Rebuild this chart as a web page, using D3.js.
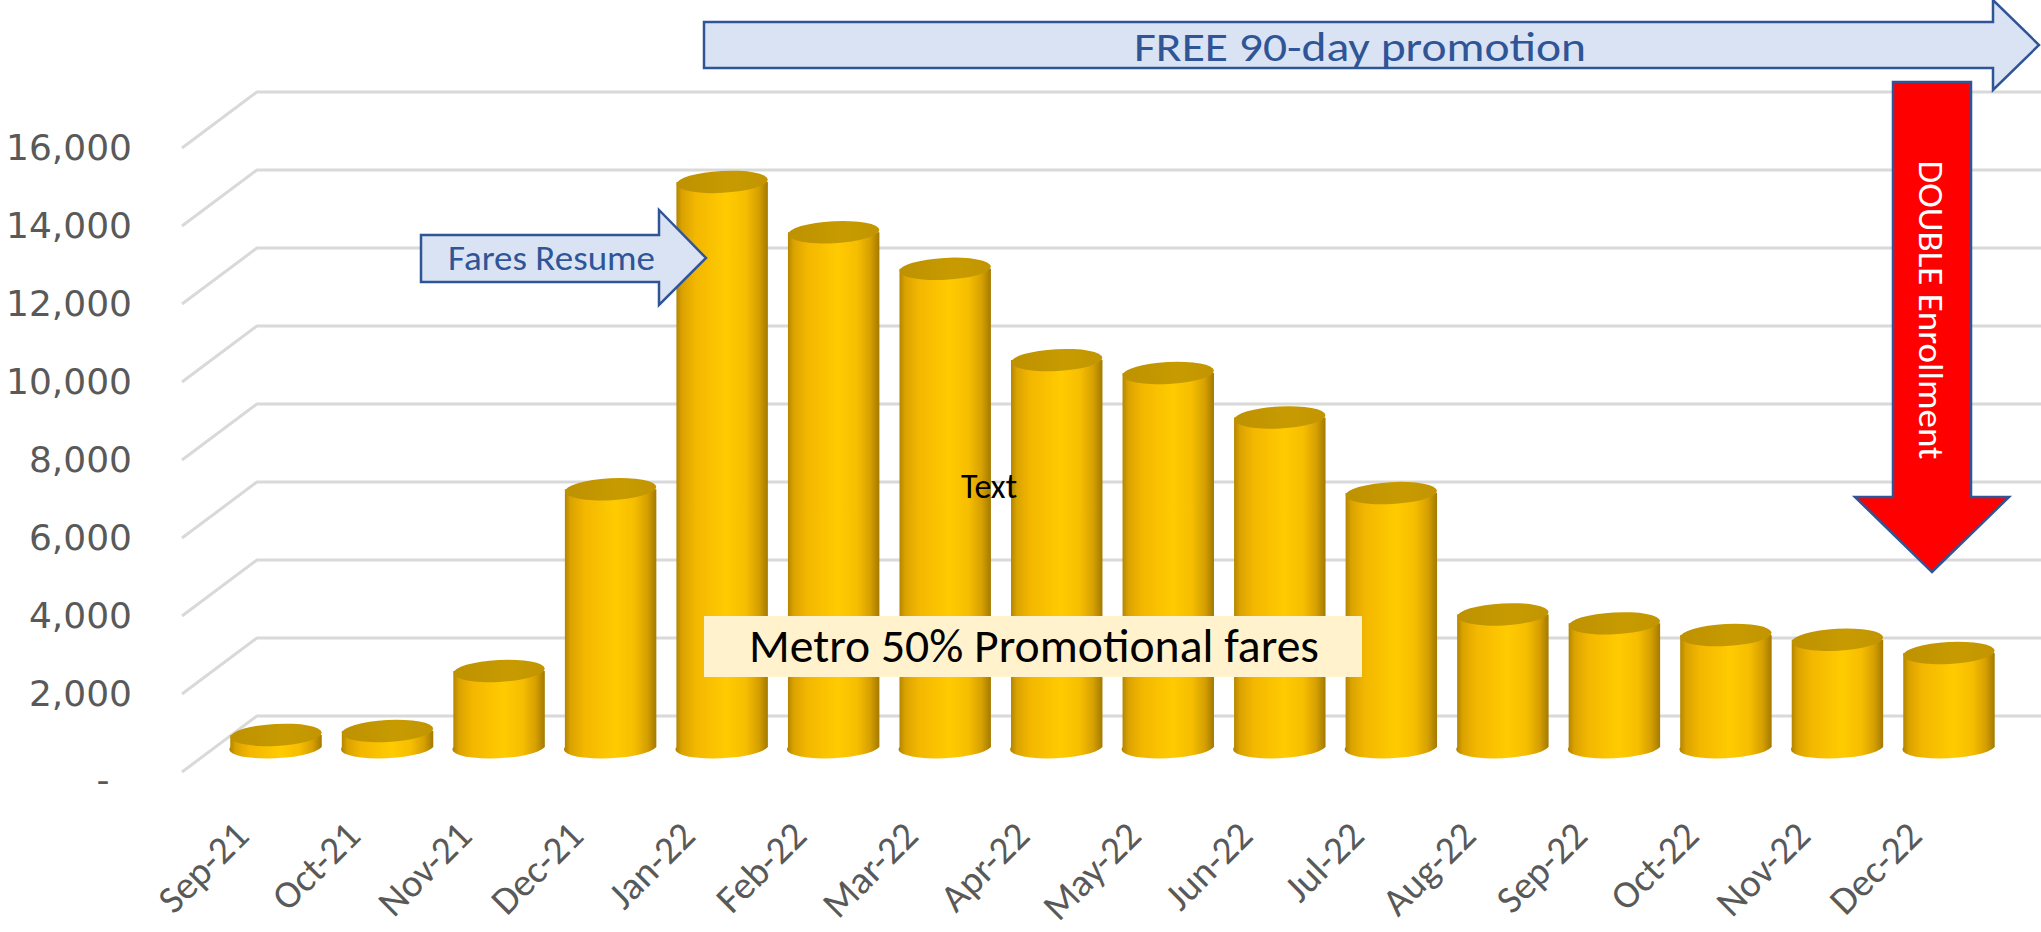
<!DOCTYPE html>
<html>
<head>
<meta charset="utf-8">
<script src="https://cdn.jsdelivr.net/npm/d3@7"></script>
<style>
  html, body { margin: 0; padding: 0; background: #ffffff; }
  svg { display: block; }
</style>
</head>
<body>
<svg id="chart" width="2041" height="932"></svg>
<script>
// ---------------- data ----------------
const categories = ["Sep-21","Oct-21","Nov-21","Dec-21","Jan-22","Feb-22","Mar-22","Apr-22",
                    "May-22","Jun-22","Jul-22","Aug-22","Sep-22","Oct-22","Nov-22","Dec-22"];
const values = [310, 410, 1950, 6610, 14490, 13200, 12260, 9920,
                9590, 8450, 6510, 3400, 3170, 2870, 2750, 2410];
const yTicks = [0, 2000, 4000, 6000, 8000, 10000, 12000, 14000, 16000];

// annotation texts
const freeText = "FREE 90-day promotion";
const faresText = "Fares Resume";
const doubleText = "DOUBLE Enrollment";
const metroText = "Metro 50% Promotional fares";
const plainText = "Text";

// ---------------- setup ----------------
const W = 2041, H = 932;
const svg = d3.select("#chart");
const calibri = "Carlito, 'Open Sans', 'Noto Sans', sans-serif";

const x = d3.scaleBand().domain(categories)
  .range([220.25, 2004.75]).paddingInner(0.18).paddingOuter(0.09);
// value scale at the front edge of the floor (where labels sit)
const yFront = d3.scaleLinear().domain([0, 16000]).range([772, 148]);
// value scale at the depth of the cylinders
const yBar = d3.scaleLinear().domain([0, 16000]).range([747, 123]);
const depthDx = 75, depthDy = -56;
const wallLeft = 182, wallRight = W;

// gradients
const defs = svg.append("defs");
const g1 = defs.append("linearGradient").attr("id", "cyl").attr("x1", "0%").attr("x2", "100%").attr("y1", "0%").attr("y2", "0%");
[["0%", "#AD8100"], ["7%", "#DAA200"], ["22%", "#F3B700"], ["55%", "#FFCB00"], ["76%", "#F6BE00"], ["90%", "#D6A000"], ["100%", "#A37A00"]]
  .forEach(([o, c]) => g1.append("stop").attr("offset", o).attr("stop-color", c));
const g2 = defs.append("linearGradient").attr("id", "cyltop").attr("x1", "0%").attr("x2", "100%").attr("y1", "0%").attr("y2", "0%");
[["0%", "#BE9100"], ["60%", "#C79B00"], ["100%", "#C29500"]]
  .forEach(([o, c]) => g2.append("stop").attr("offset", o).attr("stop-color", c));

// ---------------- gridlines (3D wall) ----------------
const grid = svg.append("g").attr("fill", "none").attr("stroke", "#D9D9D9").attr("stroke-width", 3);
grid.selectAll("path").data(yTicks).join("path")
  .attr("d", v => {
    const yf = yFront(v);
    return `M${wallLeft},${yf} L${wallLeft + depthDx},${yf + depthDy} L${wallRight},${yf + depthDy}`;
  });

// ---------------- y axis labels ----------------
const yAxis = d3.axisLeft(yFront).tickValues(yTicks).tickSize(0).tickPadding(0)
  .tickFormat(v => v === 0 ? "-" : d3.format(",")(v));
const yAxisG = svg.append("g").attr("transform", "translate(132,0)").call(yAxis);
yAxisG.select(".domain").remove();
yAxisG.selectAll("text")
  .attr("font-family", "'DejaVu Sans', Verdana, sans-serif")
  .attr("font-size", 36).attr("fill", "#595959");
yAxisG.selectAll(".tick").filter(d => d === 0).select("text")
  .attr("text-anchor", "middle").attr("x", -29).attr("dy", "0.55em");

// ---------------- cylinders ----------------
const bw = x.bandwidth(), rx = bw / 2, ry = 11, tilt = -3;
const bars = svg.append("g").selectAll("g").data(categories.map((c, i) => ({c, v: values[i]}))).join("g");
bars.append("path")
  .attr("fill", "url(#cyl)")
  .attr("d", d => {
    const cx = x(d.c) + bw / 2, yb = yBar(0), yt = yBar(d.v);
    return `M${cx - rx},${yt} L${cx - rx},${yb} A${rx},${ry} ${tilt} 0 0 ${cx + rx},${yb} L${cx + rx},${yt} Z`;
  });
bars.append("ellipse")
  .attr("fill", "url(#cyltop)")
  .attr("cx", d => x(d.c) + bw / 2).attr("cy", d => yBar(d.v))
  .attr("rx", rx).attr("ry", ry)
  .attr("transform", d => `rotate(${tilt},${x(d.c) + bw / 2},${yBar(d.v)})`);

// ---------------- x axis labels ----------------
const xAxis = d3.axisBottom(x).tickSize(0).tickPadding(0);
const xAxisG = svg.append("g").attr("transform", "translate(0,838)").call(xAxis);
xAxisG.select(".domain").remove();
xAxisG.selectAll("text")
  .attr("font-family", calibri).attr("font-size", 39).attr("fill", "#595959")
  .attr("text-anchor", "end").attr("dy", 0).attr("y", 0)
  .attr("transform", `translate(${-25},0) rotate(-45)`);

// ---------------- annotations ----------------
const ann = svg.append("g");
const blue = "#2F5597", lightBlue = "#DAE3F3";

// FREE 90-day promotion arrow
ann.append("path")
  .attr("d", "M704,22 L1993,22 L1993,0 L2039,45 L1993,90 L1993,68 L704,68 Z")
  .attr("fill", lightBlue).attr("stroke", blue).attr("stroke-width", 2.5).attr("stroke-linejoin", "miter");
ann.append("text").text(freeText)
  .attr("x", 1360).attr("y", 61).attr("text-anchor", "middle")
  .attr("font-family", calibri).attr("font-size", 42).attr("fill", blue)
  .attr("textLength", 452).attr("lengthAdjust", "spacingAndGlyphs");

// DOUBLE Enrollment arrow
ann.append("path")
  .attr("d", "M1893,82 L1971,82 L1971,497 L2009,497 L1932,572 L1855,497 L1893,497 Z")
  .attr("fill", "#FF0000").attr("stroke", blue).attr("stroke-width", 2.5);
ann.append("text").text(doubleText)
  .attr("transform", "translate(1919,310) rotate(90)")
  .attr("text-anchor", "middle")
  .attr("font-family", calibri).attr("font-size", 34).attr("fill", "#FFFFFF")
  .attr("textLength", 299).attr("lengthAdjust", "spacingAndGlyphs");

// Fares Resume arrow
ann.append("path")
  .attr("d", "M421,235 L659,235 L659,210 L706,258 L659,305 L659,282 L421,282 Z")
  .attr("fill", lightBlue).attr("stroke", blue).attr("stroke-width", 2.5);
ann.append("text").text(faresText)
  .attr("x", 551.5).attr("y", 270).attr("text-anchor", "middle")
  .attr("font-family", calibri).attr("font-size", 34).attr("fill", blue)
  .attr("textLength", 207).attr("lengthAdjust", "spacingAndGlyphs");

// Metro 50% box
ann.append("rect").attr("x", 704).attr("y", 616).attr("width", 658).attr("height", 61).attr("fill", "#FFF2CC");
ann.append("text").text(metroText)
  .attr("x", 1034).attr("y", 662).attr("text-anchor", "middle")
  .attr("font-family", calibri).attr("font-size", 47).attr("fill", "#000000")
  .attr("textLength", 570).attr("lengthAdjust", "spacingAndGlyphs");

// "Text" label
ann.append("text").text(plainText)
  .attr("x", 989).attr("y", 498).attr("text-anchor", "middle")
  .attr("font-family", calibri).attr("font-size", 34).attr("fill", "#000000");
</script>
</body>
</html>
